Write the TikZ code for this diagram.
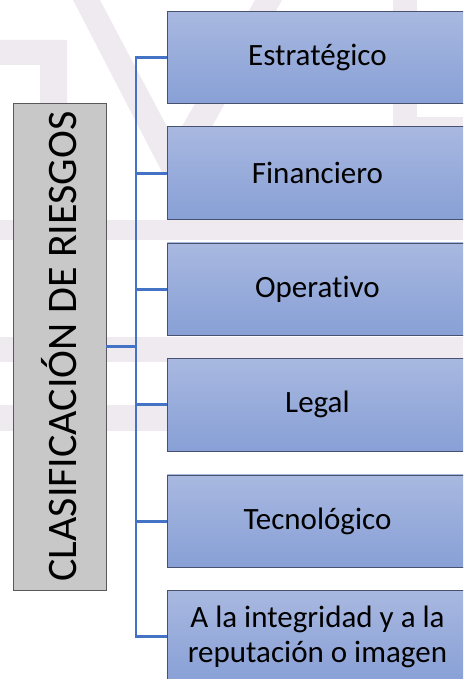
\documentclass[tikz,border=0pt]{standalone}
\usepackage{fontspec}
\setmainfont{Carlito}[Ligatures=NoCommon]
\definecolor{wmark}{RGB}{239,234,240}
\definecolor{linkblue}{RGB}{68,114,196}
\definecolor{boxtop}{RGB}{168,184,224}
\definecolor{boxbot}{RGB}{136,160,214}
\definecolor{boxline}{RGB}{70,82,110}
\definecolor{headfill}{RGB}{200,200,200}
\tikzset{
  catbox/.style={draw=boxline, line width=0.9pt, top color=boxtop, bottom color=boxbot,
    minimum width=300pt, minimum height=92.5pt, anchor=north west, align=center,
    inner sep=0pt, font=\fontsize{31}{35}\selectfont},
  headbox/.style={draw=black!65, line width=0.9pt, fill=headfill, rotate=90,
    minimum width=487pt, minimum height=93pt, inner sep=0pt,
    font=\fontsize{42}{48}\selectfont},
  link/.style={draw=linkblue, line width=2.6pt}
}
\begin{document}
\begin{tikzpicture}[x=1pt,y=-1pt]
\useasboundingbox (0,0) rectangle (463,679);
\clip (0,0) rectangle (463,679);

% watermark
\fill[wmark] (0,220) rectangle (463,240);
\fill[wmark] (0,337) rectangle (463,362);
\fill[wmark] (0,405) rectangle (170,431);
\fill[wmark] (0,40) -- (67,40) -- (67,110) -- (40,110) -- (40,65) -- (0,65) -- cycle;
\fill[wmark] (73,0) -- (100,0) -- (174,140) -- (255,0) -- (282,0) -- (187,172) -- (162,172) -- cycle;
\fill[wmark] (393,0) rectangle (417,127);
\fill[wmark] (417,117) rectangle (463,127);

% head
\node[headbox] (head) at (59.5,346.5) {CLASIFICACIÓN DE RIESGOS};

% categories
\node[catbox] (box1) at (167,11) {Estratégico};
\node[catbox] (box2) at (167,126.5) {Financiero};
\node[catbox] (box3) at (167,242.5) {Operativo};
\node[catbox] (box4) at (167,358) {Legal};
\node[catbox] (box5) at (167,474.5) {Tecnológico};
\node[catbox] (box6) at (167,590) {A la integridad y a la\\reputación o imagen};

% connectors
\coordinate (trunk) at (136,346.5);
\draw[link] (box1.west) -| (trunk) |- (box6.west);
\draw[link] (head) -- (trunk);
\foreach \i in {2,...,5}{
	\draw[link] (box\i.west) -- (trunk |- box\i.west);
}
\end{tikzpicture}
\end{document}
